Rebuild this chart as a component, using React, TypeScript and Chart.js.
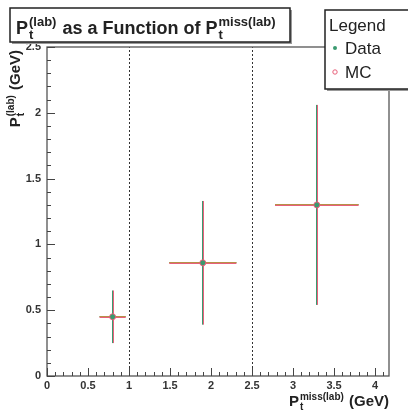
import { useEffect, useRef } from 'react';
import { Chart, registerables } from 'chart.js';

Chart.register(...registerables);

const binCenters = [0.8, 1.9, 3.29];
const binHalfWidths = [0.16, 0.41, 0.51];
const dataValues = [0.45, 0.86, 1.3];
const dataErrors = [0.2, 0.47, 0.76];
const mcValues = [0.45, 0.86, 1.3];
const mcErrors = [0.2, 0.47, 0.76];
const xTickValues = [0, 0.5, 1, 1.5, 2, 2.5, 3, 3.5, 4];
const yTickValues = [0, 0.5, 1, 1.5, 2, 2.5];
const dividerValues = [1, 2.5];

const DATA_COLOR = '#3a9a70';
const MC_COLOR = '#e8607a';
const HBAR_COLOR = 'rgba(225,140,60,0.75)';
const FONT = '"Liberation Sans", Arial, Helvetica, sans-serif';

type Seg = { t: string; sup?: string; sub?: string };

function drawRich(ctx: CanvasRenderingContext2D, segs: Seg[], x: number, y: number, size: number, ratio = 0.62, measureOnly = false): number {
  let cx = x;
  const small = Math.round(size * ratio);
  for (const s of segs) {
    ctx.font = `bold ${size}px ${FONT}`;
    if (!measureOnly) ctx.fillText(s.t, cx, y);
    cx += ctx.measureText(s.t).width;
    if (s.sup || s.sub) {
      ctx.font = `bold ${small}px ${FONT}`;
      let w = 0;
      if (s.sup) {
        if (!measureOnly) ctx.fillText(s.sup, cx + 1, y - size * 0.42);
        w = Math.max(w, ctx.measureText(s.sup).width);
      }
      if (s.sub) {
        if (!measureOnly) ctx.fillText(s.sub, cx + 1, y + size * 0.25);
        w = Math.max(w, ctx.measureText(s.sub).width);
      }
      cx += w + 2;
    }
  }
  return cx - x;
}

const decorPlugin = {
  id: 'decor',
  beforeDatasetsDraw(chart: any) {
    const ctx = chart.ctx as CanvasRenderingContext2D;
    const { left, right, top, bottom } = chart.chartArea;
    const xs = chart.scales.x;
    const ys = chart.scales.y;
    ctx.save();
    // dividers
    ctx.strokeStyle = '#333';
    ctx.lineWidth = 1;
    ctx.setLineDash([2, 2]);
    for (const v of dividerValues) {
      const px = Math.round(xs.getPixelForValue(v)) + 0.5;
      ctx.beginPath();
      ctx.moveTo(px, bottom);
      ctx.lineTo(px, top);
      ctx.stroke();
    }
    ctx.setLineDash([]);
    // frame
    ctx.strokeStyle = '#555';
    ctx.lineWidth = 1.3;
    ctx.strokeRect(left, top, right - left, bottom - top);
    // ticks
    ctx.strokeStyle = '#444';
    ctx.lineWidth = 1;
    for (let i = 0; i < xTickValues.length; i++) {
      const v = xTickValues[i];
      const px = Math.round(xs.getPixelForValue(v)) + 0.5;
      ctx.beginPath();
      ctx.moveTo(px, bottom);
      ctx.lineTo(px, bottom - 8);
      ctx.stroke();
      for (let k = 1; k < 5; k++) {
        const mv = v + k * 0.1;
        if (mv > xs.max) break;
        const mp = Math.round(xs.getPixelForValue(mv)) + 0.5;
        ctx.beginPath();
        ctx.moveTo(mp, bottom);
        ctx.lineTo(mp, bottom - 4);
        ctx.stroke();
      }
    }
    for (let i = 0; i < yTickValues.length; i++) {
      const v = yTickValues[i];
      const py = Math.round(ys.getPixelForValue(v)) + 0.5;
      ctx.beginPath();
      ctx.moveTo(left, py);
      ctx.lineTo(left + 8, py);
      ctx.stroke();
      if (i < yTickValues.length - 1) {
        for (let k = 1; k < 5; k++) {
          const mp = Math.round(ys.getPixelForValue(v + k * 0.1)) + 0.5;
          ctx.beginPath();
          ctx.moveTo(left, mp);
          ctx.lineTo(left + 4, mp);
          ctx.stroke();
        }
      }
    }
    // error bars
    ctx.lineWidth = 1;
    for (let i = 0; i < binCenters.length; i++) {
      const cx = Math.round(xs.getPixelForValue(binCenters[i]));
      // data vertical (left column), MC vertical (right column)
      ctx.strokeStyle = DATA_COLOR;
      ctx.beginPath();
      ctx.moveTo(cx - 0.5, ys.getPixelForValue(dataValues[i] - dataErrors[i]));
      ctx.lineTo(cx - 0.5, ys.getPixelForValue(dataValues[i] + dataErrors[i]));
      ctx.stroke();
      ctx.strokeStyle = MC_COLOR;
      ctx.beginPath();
      ctx.moveTo(cx + 0.5, ys.getPixelForValue(mcValues[i] - mcErrors[i]));
      ctx.lineTo(cx + 0.5, ys.getPixelForValue(mcValues[i] + mcErrors[i]));
      ctx.stroke();
      // horizontal bars: data then MC overlapping
      const x0 = xs.getPixelForValue(binCenters[i] - binHalfWidths[i]);
      const x1 = xs.getPixelForValue(binCenters[i] + binHalfWidths[i]);
      const cyD = Math.round(ys.getPixelForValue(dataValues[i])) - 0.5;
      const cyM = Math.round(ys.getPixelForValue(mcValues[i])) + 0.5;
      ctx.strokeStyle = DATA_COLOR;
      ctx.beginPath();
      ctx.moveTo(x0, cyD);
      ctx.lineTo(x1, cyD);
      ctx.stroke();
      ctx.strokeStyle = HBAR_COLOR;
      ctx.beginPath();
      ctx.moveTo(x0, cyD);
      ctx.lineTo(x1, cyD);
      ctx.stroke();
      ctx.strokeStyle = MC_COLOR;
      ctx.beginPath();
      ctx.moveTo(x0, cyM);
      ctx.lineTo(x1, cyM);
      ctx.stroke();
    }
    ctx.restore();
  },
  afterDraw(chart: any) {
    const ctx = chart.ctx as CanvasRenderingContext2D;
    const { right } = chart.chartArea;
    ctx.save();
    ctx.textBaseline = 'alphabetic';
    ctx.textAlign = 'left';
    // title box
    ctx.fillStyle = '#999';
    ctx.fillRect(12, 10, 280, 34);
    ctx.fillStyle = '#fff';
    ctx.fillRect(10, 8, 280, 34);
    ctx.strokeStyle = '#222';
    ctx.lineWidth = 1.5;
    ctx.strokeRect(10, 8, 280, 34);
    ctx.fillStyle = '#222';
    drawRich(ctx, [
      { t: 'P', sup: '(lab)', sub: 't' },
      { t: ' as a Function of P', sup: 'miss(lab)', sub: 't' },
    ], 16, 34, 18, 0.72);
    // legend box
    ctx.fillStyle = '#999';
    ctx.fillRect(327, 12, 90, 79);
    ctx.fillStyle = '#fff';
    ctx.fillRect(325, 10, 90, 79);
    ctx.strokeStyle = '#222';
    ctx.lineWidth = 1.5;
    ctx.strokeRect(325, 10, 90, 79);
    ctx.fillStyle = '#222';
    ctx.font = `17px ${FONT}`;
    ctx.fillText('Legend', 329, 31);
    ctx.fillText('Data', 345, 54);
    ctx.fillText('MC', 345, 78);
    ctx.fillStyle = DATA_COLOR;
    ctx.beginPath();
    ctx.arc(335, 48, 2, 0, Math.PI * 2);
    ctx.fill();
    ctx.strokeStyle = MC_COLOR;
    ctx.lineWidth = 1;
    ctx.beginPath();
    ctx.arc(335, 72, 2.2, 0, Math.PI * 2);
    ctx.stroke();
    // axis titles
    ctx.fillStyle = '#222';
    const xSegs: Seg[] = [{ t: 'P', sup: 'miss(lab)', sub: 't' }, { t: ' (GeV)' }];
    const xw = drawRich(ctx, xSegs, 0, 0, 15, 0.66, true);
    drawRich(ctx, xSegs, right - xw, 406, 15, 0.66);
    const ySegs: Seg[] = [{ t: 'P', sup: '(lab)', sub: 't' }, { t: ' (GeV)' }];
    const yw = drawRich(ctx, ySegs, 0, 0, 15, 0.66, true);
    ctx.translate(20, 50 + yw);
    ctx.rotate(-Math.PI / 2);
    drawRich(ctx, ySegs, 0, 0, 15, 0.66);
    ctx.restore();
  },
};

export default function App() {
  const ref = useRef<HTMLCanvasElement | null>(null);
  useEffect(() => {
    if (!ref.current) return;
    const chart = new Chart(ref.current, {
      type: 'scatter',
      data: {
        datasets: [
          {
            label: 'MC',
            data: binCenters.map((x, i) => ({ x, y: mcValues[i] })),
            pointStyle: 'circle',
            pointRadius: 3,
            pointBackgroundColor: 'rgba(255,255,255,0)',
            pointBorderColor: MC_COLOR,
            pointBorderWidth: 1,
          },
          {
            label: 'Data',
            data: binCenters.map((x, i) => ({ x, y: dataValues[i] })),
            pointStyle: 'circle',
            pointRadius: 2.5,
            pointBackgroundColor: DATA_COLOR,
            pointBorderColor: DATA_COLOR,
            pointBorderWidth: 1,
          },
        ],
      },
      options: {
        animation: false,
        responsive: false,
        maintainAspectRatio: false,
        layout: { padding: { top: 47, right: 19, left: 0, bottom: 0 } },
        plugins: {
          legend: { display: false },
          title: { display: false },
          tooltip: { enabled: false },
        },
        scales: {
          x: {
            type: 'linear',
            min: 0,
            max: 4.17,
            grid: { display: false, drawTicks: false },
            border: { display: false },
            afterBuildTicks: (s: any) => { s.ticks = xTickValues.map((v) => ({ value: v })); },
            afterFit: (s: any) => { s.height = 39; },
            ticks: {
              padding: 3,
              maxRotation: 0,
              autoSkip: false,
              color: '#333',
              font: { family: FONT, size: 11, weight: 'bold' },
              callback: (v: any) => String(v),
            },
          },
          y: {
            type: 'linear',
            min: 0,
            max: 2.5,
            grid: { display: false, drawTicks: false },
            border: { display: false },
            afterBuildTicks: (s: any) => { s.ticks = yTickValues.map((v) => ({ value: v })); },
            afterFit: (s: any) => { s.width = 47; },
            ticks: {
              padding: 6,
              autoSkip: false,
              color: '#333',
              font: { family: FONT, size: 11, weight: 'bold' },
              callback: (v: any) => String(v),
            },
          },
        },
      },
      plugins: [decorPlugin],
    } as any);
    return () => chart.destroy();
  }, []);
  return (
    <div style={{ position: 'fixed', left: 0, top: 0, width: 408, height: 415, background: '#fff' }}>
      <canvas ref={ref} width={408} height={415} style={{ width: 408, height: 415 }} />
    </div>
  );
}
